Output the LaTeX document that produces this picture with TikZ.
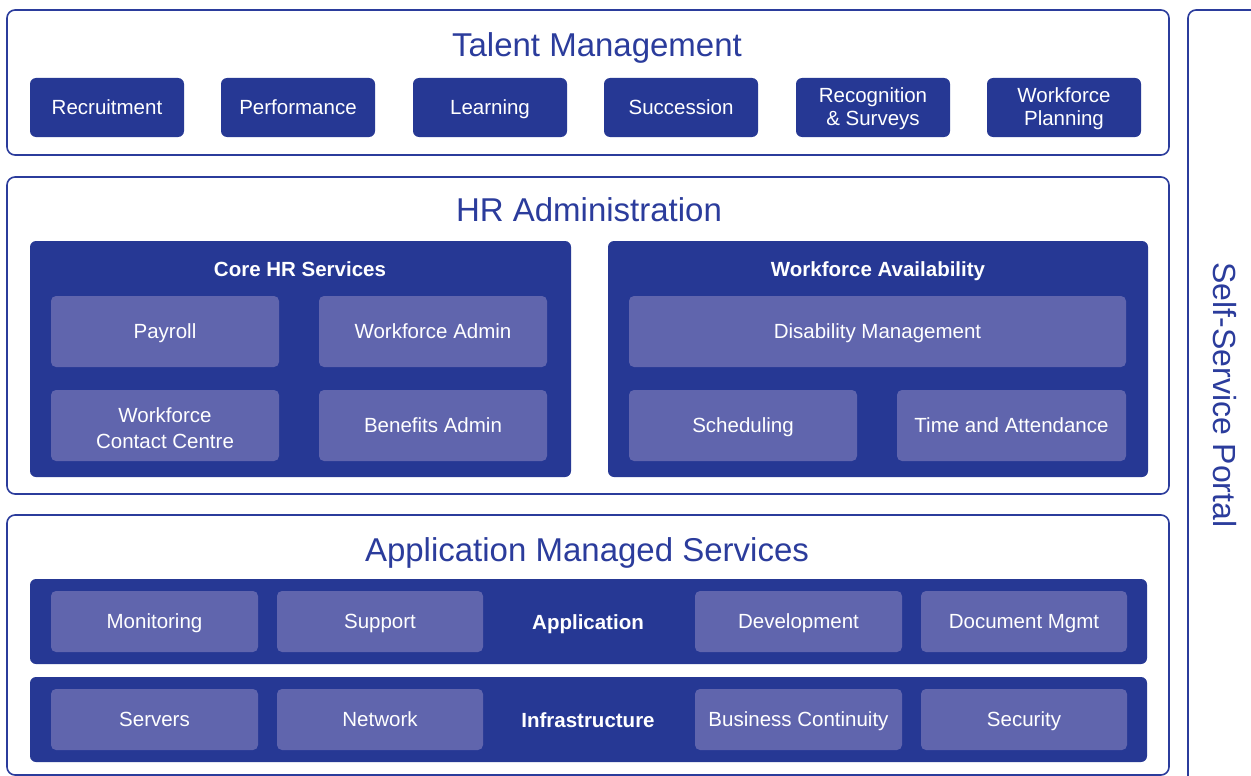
\documentclass[tikz,border=0pt]{standalone}
\usepackage{fontspec}
\setmainfont{Liberation Sans}
\begin{document}
\begin{tikzpicture}[x=1pt,y=-1pt,
  outerbox/.style={draw=bordblue, line width=1.6pt, rounded corners=8pt, fill=white, inner sep=0pt},
  darkbtn/.style={fill=darkblue, rounded corners=6pt, text=white, font=\fontsize{20.5}{23}\selectfont, align=center, inner sep=0pt, minimum width=154pt, minimum height=59pt},
  panel/.style={fill=darkblue, rounded corners=6pt, inner sep=0pt},
  litebox/.style={fill=liteblue, rounded corners=5pt, text=white, font=\fontsize{20.5}{26}\selectfont, align=center, inner sep=0pt},
  oneline/.style={text height=14.7pt, text depth=0pt},
  twoline/.style={text depth=2pt},
  paneltitle/.style={text=white, font=\fontsize{20.5}{24}\selectfont\bfseries, inner sep=0pt, text height=14.7pt, text depth=0pt},
  bigtitle/.style={text=bordblue, font=\fontsize{33}{36}\selectfont, inner sep=0pt, text height=23.6pt, text depth=0pt}
]
\definecolor{darkblue}{HTML}{263894}
\definecolor{liteblue}{HTML}{6065AD}
\definecolor{bordblue}{HTML}{2B3C9C}
\useasboundingbox (0,0) rectangle (1251,776);

% Self-service portal
\draw[bordblue, line width=1.6pt, rounded corners=8pt] (1188,790) -- (1188,10) -- (1270,10);
\node[text=bordblue, font=\fontsize{32}{36}\selectfont, rotate=-90] (ssp) at (1225,395) {Self-Service Portal};

% Talent Management
\node[outerbox, minimum width=1162pt, minimum height=145pt] (tm) at (588,82.5) {};
\node[bigtitle] (tmt) at (597,44.5) {Talent Management};
\node[darkbtn, oneline] (rec) at (107,107.5) {Recruitment};
\node[darkbtn, oneline] (perf) at (298,107.5) {Performance};
\node[darkbtn, oneline] (learn) at (490,107.5) {Learning};
\node[darkbtn, oneline] (succ) at (681,107.5) {Succession};
\node[darkbtn, twoline] (recog) at (873,107.5) {Recognition\\\& Surveys};
\node[darkbtn, twoline] (wfp) at (1064,107.5) {Workforce\\Planning};

% HR Administration
\node[outerbox, minimum width=1162pt, minimum height=317pt] (hr) at (588,335.5) {};
\node[bigtitle] (hrt) at (589,209.5) {HR Administration};
\node[panel, minimum width=541pt, minimum height=236pt] (core) at (300.5,359) {};
\node[paneltitle] (coret) at (300,269) {Core HR Services};
\node[litebox, oneline, minimum width=228pt, minimum height=71pt] (pay) at (165,331.5) {Payroll};
\node[litebox, oneline, minimum width=228pt, minimum height=71pt] (wfa) at (433,331.5) {Workforce Admin};
\node[litebox, text height=45pt, text depth=0pt, minimum width=228pt, minimum height=71pt] (wcc) at (165,425.5) {Workforce\\Contact Centre};
\node[litebox, oneline, minimum width=228pt, minimum height=71pt] (ben) at (433,425.5) {Benefits Admin};
\node[panel, minimum width=540pt, minimum height=236pt] (avail) at (878,359) {};
\node[paneltitle] (availt) at (878,269) {Workforce Availability};
\node[litebox, oneline, minimum width=497pt, minimum height=71pt] (dis) at (877.5,331.5) {Disability Management};
\node[litebox, oneline, minimum width=228pt, minimum height=71pt] (sch) at (743,425.5) {Scheduling};
\node[litebox, oneline, minimum width=229pt, minimum height=71pt] (ta) at (1011.5,425.5) {Time and Attendance};

% Application Managed Services
\node[outerbox, minimum width=1162pt, minimum height=260pt] (ams) at (588,645) {};
\node[bigtitle] (amst) at (587,550) {Application Managed Services};
\node[panel, minimum width=1117pt, minimum height=85pt] (app) at (588.5,621.5) {};
\node[paneltitle] (appt) at (588,622.5) {Application};
\node[litebox, oneline, minimum width=207pt, minimum height=61pt] (mon) at (154.5,621.5) {Monitoring};
\node[litebox, oneline, minimum width=206pt, minimum height=61pt] (sup) at (380,621.5) {Support};
\node[litebox, oneline, minimum width=207pt, minimum height=61pt] (dev) at (798.5,621.5) {Development};
\node[litebox, oneline, minimum width=206pt, minimum height=61pt] (doc) at (1024,621.5) {Document Mgmt};
\node[panel, minimum width=1117pt, minimum height=85pt] (infra) at (588.5,719.5) {};
\node[paneltitle] (infrat) at (588,720) {Infrastructure};
\node[litebox, oneline, minimum width=207pt, minimum height=61pt] (srv) at (154.5,719.5) {Servers};
\node[litebox, oneline, minimum width=206pt, minimum height=61pt] (net) at (380,719.5) {Network};
\node[litebox, oneline, minimum width=207pt, minimum height=61pt] (bc) at (798.5,719.5) {Business Continuity};
\node[litebox, oneline, minimum width=206pt, minimum height=61pt] (sec) at (1024,719.5) {Security};
\end{tikzpicture}
\end{document}
